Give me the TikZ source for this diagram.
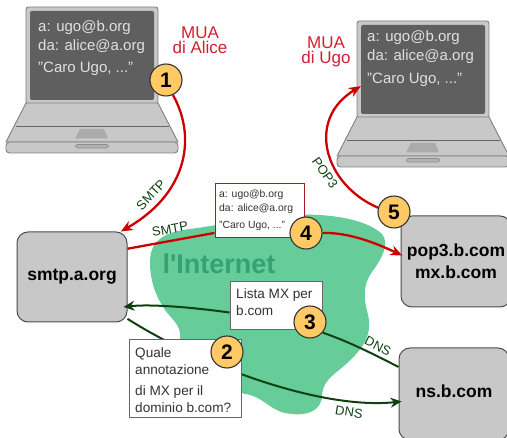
\documentclass[tikz,border=0pt]{standalone}
\usepackage{fontspec}
\setmainfont{Liberation Sans}
\newfontfamily\plainfont{Liberation Sans}
\usetikzlibrary{arrows.meta}
\definecolor{mred}{HTML}{CC0000}
\definecolor{lred}{HTML}{D02030}
\definecolor{mgreen}{HTML}{0F400F}
\definecolor{cloudc}{HTML}{66CC99}
\definecolor{inetc}{HTML}{35A270}
\definecolor{boxc}{HTML}{C8C8C8}
\definecolor{scrc}{HTML}{5F5F5F}
\definecolor{numc}{HTML}{FFC966}
\pgfdeclarelayer{under}
\pgfdeclarelayer{conn}
\pgfsetlayers{under,conn,main}
\tikzset{
  server/.style={draw=black!70,line width=1pt,fill=boxc,rounded corners=11pt,minimum width=110pt,minimum height=90pt,inner sep=0pt,align=center,font=\fontsize{17.5}{22}\selectfont\bfseries},
  notebox/.style={draw=black!60,line width=1pt,fill=white,inner sep=0pt},
  notetext/.style={anchor=west,inner sep=0pt,align=left,text=black!80},
  num/.style={circle,draw=black!80,line width=1.1pt,fill=numc,minimum size=32pt,inner sep=0pt,font=\fontsize{21}{21}\selectfont\bfseries},
  scrtext/.style={anchor=west,inner sep=0pt,text=white!88!black,font=\fontsize{15}{16}\selectfont},
  mua/.style={text=lred,align=center,inner sep=0pt,font=\fontsize{17}{15}\selectfont},
  proto/.style={text=mgreen,inner sep=0pt,font=\fontsize{13}{14}\selectfont},
  redline/.style={draw=mred,line width=2.3pt},
  redarrow/.style={redline,-{Stealth[length=12pt,width=10pt]}},
  greenline/.style={draw=mgreen,line width=2pt},
  greenarrow/.style={greenline,-{Stealth[length=11pt,width=10pt]}},
  lapline/.style={draw=black!50,line width=.9pt,fill=boxc}
}
\newcommand{\laptopdraw}[3]{%
  \begin{scope}[shift={(#1,#2)}]
    \draw[lapline,rounded corners=2.5pt] (26,7) rectangle (158,104);
    \node[fill=scrc,rounded corners=2pt,minimum width=124pt,minimum height=89pt,inner sep=0pt] (#3) at (92,55.5) {};
    \draw[lapline,line join=round] (26,103) -- (158,103) -- (178,142) -- (6,142) -- cycle;
    \draw[draw=black!60,line width=.9pt] (15.5,126.5) -- (168.5,126.5);
    \draw[fill=black!33,draw=none] (80,129) -- (104,129) -- (108,138.5) -- (75,138.5) -- cycle;
    \draw[lapline,rounded corners=3.5pt] (6,142) rectangle (178,153);
    \draw[draw=black!45,fill=black!30,line width=.7pt,rounded corners=1.5pt] (75.5,144.5) rectangle (108.5,148);
  \end{scope}%
}
\begin{document}
\begin{tikzpicture}[x=1pt,y=-1pt]
\useasboundingbox (0,0) rectangle (507,438);
\clip (0,0) rectangle (507,438);
\begin{pgfonlayer}{under}
  % cloud
  \fill[cloudc] (150,262) .. controls (150,240) and (165,232) .. (190,229)
    .. controls (215,226) and (250,218) .. (290,215)
    .. controls (325,213) and (365,218) .. (382,234)
    .. controls (390,244) and (382,258) .. (372,272)
    .. controls (362,286) and (364,300) .. (368,315)
    .. controls (373,335) and (362,350) .. (345,365)
    .. controls (335,374) and (323,380) .. (322,395)
    .. controls (322,412) and (305,417) .. (285,413)
    .. controls (270,410) and (262,396) .. (245,394)
    -- (200,380) -- (180,340)
    .. controls (182,325) and (172,320) .. (165,310)
    .. controls (155,295) and (150,280) .. (150,262) -- cycle;
  \laptopdraw{0}{0}{scrA}
  \laptopdraw{331}{14}{scrB}
  \node[server] (smtp) at (72,277) {\raisebox{5pt}{smtp.a.org}};
  \node[server,minimum height=91pt] (pop) at (456,261.5) {pop3.b.com\\mx.b.com};
  \node[server,minimum height=92pt] (ns) at (454,394) {\raisebox{6pt}{ns.b.com}};
\end{pgfonlayer}

\node[inner sep=0pt,text=inetc,font=\fontsize{27}{27}\selectfont\plainfont\bfseries] (inet) at (219,264) {l'Internet};

% screen texts
\node[scrtext] (a1) at (38,28) {a: ugo@b.org};
\node[scrtext] (a2) at (38,47) {da: alice@a.org};
\node[scrtext] (a3) at (38,69) {"Caro Ugo, ..."};
\node[scrtext] (b1) at (367,38) {a: ugo@b.org};
\node[scrtext] (b2) at (367,57) {da: alice@a.org};
\node[scrtext] (b3) at (367,80) {"Caro Ugo, ..."};

\node[mua] (muaA) at (200,40) {MUA\\di Alice};
\node[mua] (muaB) at (326,52) {MUA\\di Ugo};

% notes
\node[notebox,minimum width=112pt,minimum height=78pt] (note2) at (185,379) {};
\node[notebox,minimum width=92pt,minimum height=48pt] (note3) at (276,306) {};
\node[notebox,draw=lred!80!black,minimum width=89pt,minimum height=54pt] (note4) at (259.5,211) {};
\node[notetext,font=\fontsize{13.6}{17}\selectfont] (t2) at (135,380.5) {Quale\\annotazione\\[4pt]di MX per il\\dominio b.com?};
\node[notetext,font=\fontsize{13.6}{17}\selectfont] (t3) at (236,302.5) {Lista MX per\\b.com};
\node[notetext,font=\fontsize{10.4}{14}\selectfont] (t4) at (219,210) {a: ugo@b.org\\da: alice@a.org\\[3pt]"Caro Ugo, ..."};

% numbered circles
\node[num] (n1) at (166,80) {1};
\node[num] (n2) at (227,352) {2};
\node[num] (n3) at (310,322) {3};
\node[num] (n4) at (306,233) {4};
\node[num] (n5) at (394,212) {5};

% connectors
\begin{pgfonlayer}{conn}
  \draw[redarrow] (n1.-65) .. controls (198,140) and (185,195) .. (smtp.43);
  \draw[redline] (note4.206) -- (smtp.27.8);
  \draw[redarrow,shorten >=-2pt] (n4.east) .. controls (350,232) and (380,245) .. (pop.173.3);
  \draw[redarrow] (n5.165) .. controls (325,185) and (305,120) .. (scrB.195.8);
  \draw[greenarrow,shorten >=-4pt] (note3.188.6) .. controls (190,307) and (150,304) .. (smtp.-28);
  \draw[greenline] (n3.-40) .. controls (350,342) and (375,355) .. (ns.154.7);
  \draw[greenarrow,shorten >=-3pt] (smtp.-37.6) .. controls (200,365) and (320,410) .. (ns.188.3);
\end{pgfonlayer}

% protocol labels
\node[proto,rotate=47] (sm1) at (151,195) {SMTP};
\node[proto,rotate=10] (sm2) at (170,229) {SMTP};
\node[proto,rotate=-55] (po) at (325,173) {POP3};
\node[proto,rotate=-27] (dn1) at (378,346) {DNS};
\node[proto,rotate=-9] (dn2) at (349,412) {DNS};
\end{tikzpicture}
\end{document}
